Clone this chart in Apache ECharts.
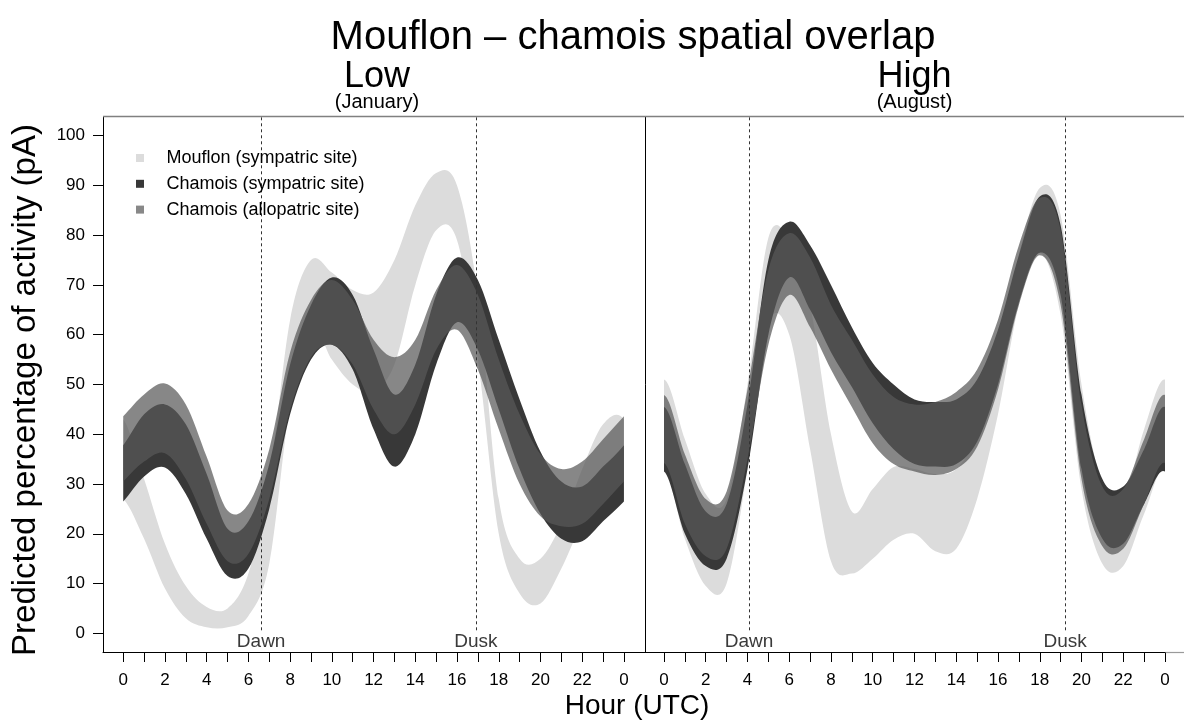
<!DOCTYPE html>
<html>
<head>
<meta charset="utf-8">
<script src="https://cdn.jsdelivr.net/npm/echarts@6/dist/echarts.min.js"></script>
<style>
  html, body { margin: 0; padding: 0; background: #ffffff; }
  #chart { width: 1184px; height: 724px; }
</style>
</head>
<body>
<div id="chart"></div>
<script>
// Hour of day (UTC) at which every band is sampled
const hours = [0, 1, 2, 3, 4, 5, 6, 7, 8, 9, 10, 11, 12, 13, 14, 15, 16, 17, 18, 19, 20, 21, 22, 23, 24];

// Low spatial overlap (January): lower / upper limits of predicted activity (%)
const lowMouflonLo = [27, 19, 9, 3, 1.2, 1.2, 3.5, 14, 46, 62, 55, 50, 48.5, 54, 70, 81, 79, 55, 20, 8, 6, 13, 22, 27, 27];
const lowMouflonHi = [43, 31, 18, 9.5, 5.3, 5, 12, 31, 63, 75, 72.5, 69, 68.5, 75, 86, 92.5, 90, 68, 27, 15, 15, 22, 33, 42, 43];
const lowSympLo = [26.5, 31.5, 33.3, 28, 19, 11.5, 13, 25, 44, 55, 58, 53, 41, 33.5, 40, 54, 62.5, 57, 45, 33, 24, 19, 18.5, 22.5, 26.5];
const lowSympHi = [37.8, 44, 46, 42, 32, 21, 22.5, 34, 54, 66, 71.5, 68, 57, 48, 54, 68, 75.5, 71, 59, 47, 36.5, 30.5, 29.5, 33.5, 37.8];
const lowAlloLo = [30.5, 34.5, 36.2, 31, 22, 14.5, 16, 27, 45, 55.5, 58, 54, 45, 40, 46, 57, 61, 53, 41, 30, 23.5, 21.5, 22, 26, 30.5];
const lowAlloHi = [43.6, 48, 50.2, 46, 35.5, 24.7, 26, 37, 56.5, 67, 71, 67, 59, 55.5, 59, 69, 74, 68, 55, 44, 36, 33, 34.5, 39, 43.6];

// High spatial overlap (August)
const highMouflonLo = [33, 19, 9.5, 10, 33, 62, 60, 37, 14.5, 12, 15, 18.8, 20, 16.5, 17, 27, 44, 66, 76.5, 64, 29, 14, 13.5, 24, 33];
const highMouflonHi = [51, 39, 28, 27, 50, 79.5, 79, 66, 40, 24.5, 29, 33.4, 33, 32, 33, 40, 56, 76, 89.5, 84, 50, 30, 27, 41, 51];
const highSympLo = [32.5, 20, 13.5, 15, 33, 60, 71.5, 65, 56.5, 49.5, 42.2, 37, 34, 33.5, 34, 38.5, 50, 66.5, 76.5, 68, 33, 19, 18, 26, 32.5];
const highSympHi = [45.5, 34, 24.5, 26, 46, 75, 82.7, 78, 70, 61.5, 54.3, 50, 47, 46.5, 47, 51, 61, 76, 87.8, 82, 48, 31, 29.5, 37, 45.5];
const highAlloLo = [34.2, 22, 15.5, 17, 35, 58, 68, 61.5, 53, 45.5, 38.2, 34, 32.5, 31.8, 33, 37.5, 49, 66, 76, 66, 31, 17.5, 17, 26, 34.2];
const highAlloHi = [47.9, 36, 27, 28.5, 49, 73, 80.4, 75.5, 66, 59, 52, 47.5, 46, 46.5, 48.5, 53, 63, 78, 87.5, 81, 46, 29.5, 29, 39, 47.9];

// Axis ticks and labels
const hourTicks = [0, 1, 2, 3, 4, 5, 6, 7, 8, 9, 10, 11, 12, 13, 14, 15, 16, 17, 18, 19, 20, 21, 22, 23, 24];
const hourLabels = [0, 2, 4, 6, 8, 10, 12, 14, 16, 18, 20, 22, 24];
const activityTicks = [0, 10, 20, 30, 40, 50, 60, 70, 80, 90, 100];

// Series names and twilight times (hours UTC) per panel
const groupNames = ['Mouflon (sympatric site)', 'Chamois (sympatric site)', 'Chamois (allopatric site)'];
const panelTitles = ['Low', 'High'];
const panelMonths = ['(January)', '(August)'];
const dawnHours = [6.61, 4.07];
const duskHours = [16.9, 19.22];

// Styling
const FONT = '"Liberation Sans", Arial, Helvetica, sans-serif';
const legendSwatches = ['#dcdcdc', '#383838', '#888888'];
const bandFills = ['#dcdcdc', '#383838', 'rgba(89,89,89,0.72)'];

const chart = echarts.init(document.getElementById('chart'), null, { renderer: 'canvas' });

// Smooth edge through the sampled points (cubic Bezier, Catmull-Rom tangents).
// The day is cyclic, so the neighbours beyond 0 h and 24 h wrap around.
function edgePath(api, values, reverse, moveFirst) {
  const n = values.length;
  const pts = [];
  for (let i = -1; i <= n; i++) {
    let h, v;
    if (i < 0) { h = hours[0] - (hours[n - 1] - hours[n - 2]); v = values[n - 2]; }
    else if (i >= n) { h = hours[n - 1] + (hours[1] - hours[0]); v = values[1]; }
    else { h = hours[i]; v = values[i]; }
    pts.push(api.coord([h, v]));
  }
  const seq = reverse ? pts.slice().reverse() : pts;
  let d = (moveFirst ? 'M' : 'L') + seq[1][0].toFixed(2) + ',' + seq[1][1].toFixed(2);
  for (let k = 1; k < seq.length - 2; k++) {
    const p0 = seq[k - 1], p1 = seq[k], p2 = seq[k + 1], p3 = seq[k + 2];
    const c1 = [p1[0] + (p2[0] - p0[0]) / 6, p1[1] + (p2[1] - p0[1]) / 6];
    const c2 = [p2[0] - (p3[0] - p1[0]) / 6, p2[1] - (p3[1] - p1[1]) / 6];
    d += 'C' + c1[0].toFixed(2) + ',' + c1[1].toFixed(2) + ' ' + c2[0].toFixed(2) + ',' + c2[1].toFixed(2) + ' ' + p2[0].toFixed(2) + ',' + p2[1].toFixed(2);
  }
  return d;
}

// One confidence band drawn as a filled ribbon between its lower and upper limits
function band(name, lo, hi, panel, fill, z) {
  return {
    type: 'custom', name: name, xAxisIndex: panel, yAxisIndex: panel,
    coordinateSystem: 'cartesian2d', silent: true, z: z, animation: false, clip: true,
    data: [[hours[0], lo[0]]],
    renderItem: (params, api) => ({
      type: 'path',
      shape: { pathData: edgePath(api, hi, false, true) + edgePath(api, lo, true, false) + 'Z' },
      style: { fill: fill, stroke: null }
    })
  };
}

// Dashed twilight lines with their labels
function twilightSeries(panel) {
  const marks = [['Dawn', dawnHours[panel]], ['Dusk', duskHours[panel]]];
  return {
    type: 'line', xAxisIndex: panel, yAxisIndex: panel, data: [], silent: true, z: 6, animation: false,
    markLine: {
      silent: true, symbol: ['none', 'none'], animation: false,
      label: { show: false },
      lineStyle: { type: [3, 3], color: '#333333', width: 1 },
      data: marks.map(m => [{ coord: [m[1], 0.6] }, { coord: [m[1], 103.86] }])
    },
    markPoint: {
      silent: true, symbol: 'rect', symbolSize: 0, animation: false,
      label: { show: true, position: 'inside', color: '#3a3a3a', fontSize: 19, fontFamily: FONT, formatter: p => p.name },
      data: marks.map(m => ({ name: m[0], coord: [m[1], -1.7] }))
    }
  };
}

const series = [
  band(groupNames[0], lowMouflonLo, lowMouflonHi, 0, bandFills[0], 2),
  band(groupNames[1], lowSympLo, lowSympHi, 0, bandFills[1], 3),
  band(groupNames[2], lowAlloLo, lowAlloHi, 0, bandFills[2], 4),
  band(groupNames[0], highMouflonLo, highMouflonHi, 1, bandFills[0], 2),
  band(groupNames[1], highSympLo, highSympHi, 1, bandFills[1], 3),
  band(groupNames[2], highAlloLo, highAlloHi, 1, bandFills[2], 4),
  twilightSeries(0),
  twilightSeries(1)
];

const axisText = { color: '#000000', fontSize: 17, fontFamily: FONT };

function hourAxis(panel, min, max) {
  return {
    type: 'value', gridIndex: panel, min: min, max: max, position: 'bottom',
    axisLine: { show: true, onZero: false, lineStyle: { color: '#000000', width: 1 } },
    axisTick: { show: true, customValues: hourTicks, length: 10, lineStyle: { color: '#000000', width: 1 } },
    axisLabel: Object.assign({ show: true, customValues: hourLabels, margin: 20, formatter: v => String(v % 24) }, axisText),
    splitLine: { show: false }
  };
}

function activityAxis(panel, showScale) {
  return {
    type: 'value', gridIndex: panel, min: -3.76, max: 103.86, position: 'left',
    axisLine: { show: true, onZero: false, lineStyle: { color: '#000000', width: 1 } },
    axisTick: { show: showScale, customValues: activityTicks, length: 10, lineStyle: { color: '#000000', width: 1 } },
    axisLabel: Object.assign({ show: showScale, customValues: activityTicks, margin: 18 }, axisText),
    splitLine: { show: false }
  };
}

// Headings, axis titles, legend and panel frame
const graphics = [
  { type: 'line', z: 10, shape: { x1: 103, y1: 116.5, x2: 1184, y2: 116.5 }, style: { stroke: '#808080', lineWidth: 1.3 } },
  { type: 'line', z: 10, shape: { x1: 1165.5, y1: 652.5, x2: 1184, y2: 652.5 }, style: { stroke: '#9a9a9a', lineWidth: 1.2 } },
  { type: 'text', x: 633, y: 38, style: { text: 'Mouflon \u2013 chamois spatial overlap', font: '40px ' + FONT, fill: '#000', align: 'center', verticalAlign: 'middle' } },
  { type: 'text', x: 637, y: 706, style: { text: 'Hour (UTC)', font: '28px ' + FONT, fill: '#000', align: 'center', verticalAlign: 'middle' } },
  { type: 'text', x: 26, y: 390, rotation: Math.PI / 2, style: { text: 'Predicted percentage of activity (pA)', font: '33px ' + FONT, fill: '#000', align: 'center', verticalAlign: 'middle' } }
];
const panelCenters = [377, 914.5];
panelTitles.forEach((t, i) => {
  graphics.push({ type: 'text', x: panelCenters[i], y: 77, style: { text: t, font: '36px ' + FONT, fill: '#000', align: 'center', verticalAlign: 'middle' } });
  graphics.push({ type: 'text', x: panelCenters[i], y: 102, style: { text: panelMonths[i], font: '20px ' + FONT, fill: '#000', align: 'center', verticalAlign: 'middle' } });
});
groupNames.forEach((name, i) => {
  const cy = 158 + i * 25.8;
  graphics.push({ type: 'rect', z: 10, shape: { x: 136, y: cy - 4, width: 8, height: 8 }, style: { fill: legendSwatches[i] } });
  graphics.push({ type: 'text', z: 10, x: 166.5, y: cy, style: { text: name, font: '18px ' + FONT, fill: '#000', align: 'left', verticalAlign: 'middle' } });
});

chart.setOption({
  animation: false,
  backgroundColor: '#ffffff',
  grid: [
    { left: 103, top: 116.5, width: 542, height: 535.5, containLabel: false },
    { left: 645, top: 116.5, width: 539, height: 535.5, containLabel: false }
  ],
  xAxis: [hourAxis(0, -0.97, 25.01), hourAxis(1, -0.91, 24.91)],
  yAxis: [activityAxis(0, true), activityAxis(1, false)],
  tooltip: { show: false },
  series: series,
  graphic: graphics
});
</script>
</body>
</html>
